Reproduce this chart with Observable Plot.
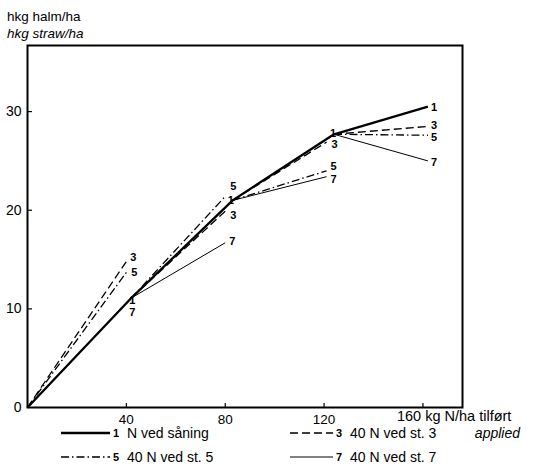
<!DOCTYPE html>
<html><head><meta charset="utf-8">
<script src="https://cdn.jsdelivr.net/npm/d3@7"></script>
<script src="https://cdn.jsdelivr.net/npm/@observablehq/plot@0.6"></script>
<style>
body{margin:0;background:#fff;font-family:"Liberation Sans",Arial,Helvetica,sans-serif;}
#wrap{position:relative;width:533px;height:469px;overflow:hidden;}
#wrap svg{position:absolute;left:0;top:0}
</style></head><body>
<div id="wrap"></div>
<script>
// ---- data ----
const seriesNames = ["1", "3", "5", "7"];
const legendTexts = ["N ved såning", "40 N ved st. 3", "40 N ved st. 5", "40 N ved st. 7"];
// Series 1 (all N at sowing): drawn positions along x (kg N/ha) and yield (hkg straw/ha)
const baseX = [0, 42, 83, 124, 162];
const s1 = [0, 11.1, 21.0, 27.7, 30.5];
// end x of each "+40 N later" segment
const endX = [40, 80, 121, 162];
const s3 = [14.8, 19.9, 26.9, 28.5];
const s5 = [13.7, 21.4, 24.0, 27.6];
const s7 = [10.6, 16.7, 23.4, 25.0];
const xTicks = [40, 80, 120, 160];
const yTicks = [10, 20, 30];
const yLabels = [0, 10, 20, 30];

// ---- build tables ----
const rows = [];
s1.forEach((v, i) => rows.push({s: "1", seg: "1", x: baseX[i], y: v}));
const extra = {"3": s3, "5": s5, "7": s7};
for (const k of ["3", "5", "7"]) {
  extra[k].forEach((v, i) => {
    rows.push({s: k, seg: k + "-" + i, x: baseX[i], y: s1[i]});
    rows.push({s: k, seg: k + "-" + i, x: endX[i], y: v});
  });
}
const labels = [];
s1.forEach((v, i) => { if (i > 0) labels.push({t: "1", x: baseX[i], y: v, i}); });
for (const k of ["3", "5", "7"]) extra[k].forEach((v, i) => labels.push({t: k, x: endX[i], y: v, i}));
// label nudges (pixels) so the numbers don't collide
function nudge(l) {
  const key = l.t + "@" + l.i;
  const m = {
    "1@1": [-2, 2], "7@0": [3, 10], "3@0": [4, -4], "5@0": [5, 0],
    "1@2": [-5, 0], "5@1": [5, -10], "3@1": [5, 4], "7@1": [4, -1],
    "1@3": [-4, -1], "3@2": [5, 2], "5@2": [4, -4], "7@2": [4, 3],
    "1@4": [3, 1], "3@3": [3, -1], "5@3": [3, 2], "7@3": [3, 2]
  };
  return m[key] || [4, 0];
}
const styles = {
  "1": {strokeWidth: 2.3},
  "3": {strokeWidth: 1.3, strokeDasharray: "8,4"},
  "5": {strokeWidth: 1.3, strokeDasharray: "8,3,1.5,3"},
  "7": {strokeWidth: 1}
};

const W = 533, H = 469, mL = 27, mR = 71, mT = 45, mB = 62;
const plotW = W - mL - mR, plotH = H - mT - mB;

const chart = Plot.plot({
  width: W, height: H,
  marginLeft: mL, marginRight: mR, marginTop: mT, marginBottom: mB,
  x: {domain: [0, 176]},
  y: {domain: [0, 36.7]},
  style: {fontFamily: "Liberation Sans, Arial, sans-serif", fontSize: "14px", color: "#000", background: "transparent"},
  marks: [
    ...seriesNames.map(k => Plot.line(rows.filter(r => r.s === k), {x: "x", y: "y", z: "seg", stroke: "#000", strokeLinecap: "butt", ...styles[k]})),
    Plot.ruleX(xTicks, {x: d => d, stroke: "#000", strokeWidth: 1.2, insetTop: plotH - 4}),
    Plot.ruleY(yTicks, {y: d => d, stroke: "#000", strokeWidth: 1.2, insetRight: plotW - 5}),
    Plot.frame({stroke: "#000", strokeWidth: 2}),
    Plot.axisX(xTicks, {tickSize: 0, tickPadding: 7, label: null, tickFormat: d => d === 160 ? "" : String(d), fontSize: 13.5}),
    Plot.axisY(yLabels, {tickSize: 0, tickPadding: 6, label: null, fontSize: 14}),
    Plot.text(["160 kg N/ha tilført"], {x: 160, frameAnchor: "bottom", textAnchor: "start", dx: -26, dy: 13, fontSize: 14.5}),
    ...labels.map(l => { const [dx, dy] = nudge(l); return Plot.text([l], {x: "x", y: "y", text: "t", dx, dy, textAnchor: "start", fontWeight: "bold", fontSize: 11}); })
  ]
});
const wrap = document.getElementById("wrap");
wrap.appendChild(chart);

// legend + extra texts as an overlay svg
const svg = d3.select(wrap).append("svg").attr("width", W).attr("height", H)
  .style("font-family", "Liberation Sans, Arial, sans-serif");
const pos = [
  {x1: 61, x2: 110, y: 433}, {x1: 290, x2: 333, y: 433},
  {x1: 61, x2: 110, y: 457}, {x1: 290, x2: 333, y: 457}
];
seriesNames.forEach((k, i) => {
  const p = pos[i], st = styles[k];
  svg.append("line").attr("x1", p.x1).attr("x2", p.x2).attr("y1", p.y).attr("y2", p.y)
    .attr("stroke", "#000").attr("stroke-width", st.strokeWidth)
    .attr("stroke-dasharray", st.strokeDasharray || null);
  svg.append("text").attr("x", p.x2 + 3).attr("y", p.y).attr("dy", "0.35em")
    .attr("font-size", 11).attr("font-weight", "bold").text(k);
  svg.append("text").attr("x", p.x2 + 17).attr("y", p.y).attr("dy", "0.35em")
    .attr("font-size", 14).text(legendTexts[i]);
});
svg.append("text").attr("x", 520).attr("y", 433).attr("dy", "0.35em").attr("text-anchor", "end")
  .attr("font-size", 14).attr("font-style", "italic").text("applied");
svg.append("text").attr("x", 7).attr("y", 16).attr("dy", "0.35em").attr("font-size", 13.5).text("hkg halm/ha");
svg.append("text").attr("x", 7).attr("y", 33).attr("dy", "0.35em").attr("font-size", 13.5).attr("font-style", "italic").text("hkg straw/ha");
</script>
</body></html>
